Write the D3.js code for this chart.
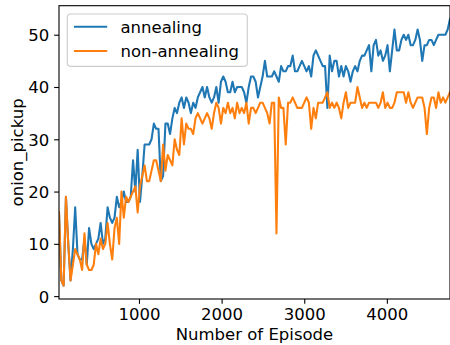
<!DOCTYPE html>
<html>
<head>
<meta charset="utf-8">
<script src="https://cdn.jsdelivr.net/npm/d3@7"></script>
<style>
  html, body { margin: 0; padding: 0; background: #fff; }
  svg { display: block; }
  text { font-family: "DejaVu Sans", sans-serif; fill: #000; }
</style>
</head>
<body>
<svg id="chart" width="450" height="345"></svg>
<script>
// ---- data ----
const episodeStart = 32;
const episodeStep = 28;
const annealing = [
  16, 3, 2, 19, 10, 3, 9, 17, 8, 7,
  7, 11, 6, 13, 10, 9, 10, 11, 14, 10,
  11, 17, 15, 14, 15, 19, 17, 18, 20, 18,
  18, 19, 26, 20, 28, 18, 23, 29, 29, 29,
  30, 33, 32, 32, 22, 23, 33, 33, 31, 34,
  36, 35, 37, 38, 36, 38, 37, 35, 37, 36,
  38, 39, 40, 38, 40, 38, 37, 38, 40, 37,
  41, 42, 41, 39, 39, 41, 39, 40, 40, 40,
  39, 37, 40, 42, 42, 41, 38, 40, 42, 45,
  42, 42, 42, 43, 42, 41, 44, 43, 43, 44,
  44, 46, 43, 43, 44, 45, 44, 43, 44, 42,
  46, 47, 46, 45, 44, 44, 36, 46, 43, 45,
  45, 42, 44, 42, 44, 43, 41, 43, 44, 43,
  45, 46, 46, 47, 48, 43, 48, 49, 46, 47,
  45, 46, 48, 43, 47, 51, 47, 47, 49, 50,
  49, 50, 48, 48, 49, 51, 49, 45, 48, 48,
  49, 49, 48, 49, 50, 50, 50, 50, 51, 53
];
const nonAnnealing = [
  16, 3, 2, 19, 10, 3, 6, 9, 8, 7,
  5, 12, 6, 5, 5, 6, 10, 8, 11, 9,
  10, 14, 10, 7, 13, 15, 10, 20, 15, 19,
  18, 19, 20, 21, 16, 21, 23, 25, 22, 22,
  24, 26, 26, 24, 22, 29, 24, 27, 26, 25,
  30, 28, 27, 34, 29, 33, 32, 32, 31, 34,
  35, 34, 33, 34, 35, 34, 32, 35, 37, 36,
  33, 36, 35, 37, 35, 36, 34, 37, 35, 36,
  35, 37, 33, 36, 36, 35, 36, 37, 37, 36,
  35, 33, 37, 37, 12, 38, 36, 36, 29, 37,
  37, 38, 37, 36, 36, 36, 37, 38, 37, 32,
  36, 34, 37, 37, 37, 38, 39, 36, 37, 36,
  37, 36, 34, 37, 39, 36, 37, 37, 37, 40,
  38, 36, 37, 36, 37, 37, 37, 37, 36, 37,
  39, 36, 37, 36, 36, 37, 39, 39, 39, 39,
  37, 39, 37, 36, 37, 38, 38, 38, 36, 31,
  36, 38, 38, 36, 39, 37, 38, 37, 38, 39
];
const xTicks = [1000, 2000, 3000, 4000];
const yTicks = [0, 10, 20, 30, 40, 50];
const seriesNames = ["annealing", "non-annealing"];
const seriesColors = ["#1f77b4", "#ff7f0e"];
const xLabel = "Number of Episode";
const yLabel = "onion_pickup";

(function () {
  const episodes = annealing.map((_, i) => episodeStart + i * episodeStep);

  // ---- layout ----
  const W = 450, H = 345;
  const mL = 59, mR = 450, mT = 5.7, mB = 299;
  const FS = 16.5;

  const svg = d3.select("#chart");
  svg.append("rect").attr("width", W).attr("height", H).attr("fill", "#fff");

  const all = annealing.concat(nonAnnealing);
  const [ymin, ymax] = d3.extent(all);
  const pad = (ymax - ymin) * 0.05;
  const x = d3.scaleLinear().domain(d3.extent(episodes)).range([mL, mR]);
  const y = d3.scaleLinear().domain([ymin - pad, ymax + pad]).range([mB, mT]);

  svg.append("defs").append("clipPath").attr("id", "clip")
    .append("rect").attr("x", mL).attr("y", mT)
    .attr("width", mR - mL).attr("height", mB - mT);

  const line = d3.line().x((d, i) => x(episodes[i])).y(d => y(d));
  const plot = svg.append("g").attr("clip-path", "url(#clip)");
  [annealing, nonAnnealing].forEach((s, k) => {
    plot.append("path").datum(s)
      .attr("fill", "none")
      .attr("stroke", seriesColors[k])
      .attr("stroke-width", 2.08)
      .attr("stroke-linejoin", "round")
      .attr("stroke-linecap", "square")
      .attr("d", line);
  });

  // axes
  const xAxis = d3.axisBottom(x).tickValues(xTicks).tickSize(4.86).tickPadding(4.86).tickFormat(d3.format("d"));
  const yAxis = d3.axisLeft(y).tickValues(yTicks).tickSize(4.86).tickPadding(4.86).tickFormat(d3.format("d"));

  const gx = svg.append("g").attr("transform", `translate(0,${mB})`).call(xAxis);
  const gy = svg.append("g").attr("transform", `translate(${mL},0)`).call(yAxis);
  [gx, gy].forEach(g => {
    g.select(".domain").remove();
    g.selectAll(".tick line").attr("stroke", "#000").attr("stroke-width", 1.1);
    g.selectAll(".tick text").attr("font-family", "DejaVu Sans").attr("font-size", FS).attr("fill", "#000");
  });
  gx.selectAll(".tick text").attr("dy", null).attr("y", 20.5);
  gy.selectAll(".tick text").attr("dy", "0.36em");

  // spines
  svg.append("rect").attr("x", mL).attr("y", mT)
    .attr("width", mR - mL).attr("height", mB - mT)
    .attr("fill", "none").attr("stroke", "#000").attr("stroke-width", 1.1);

  // axis labels
  svg.append("text").attr("x", (mL + mR) / 2).attr("y", 339.5)
    .attr("text-anchor", "middle").attr("font-size", FS).text(xLabel);
  svg.append("text")
    .attr("transform", `translate(23,${(mT + mB) / 2}) rotate(-90)`)
    .attr("text-anchor", "middle").attr("font-size", FS).text(yLabel);

  // legend
  const lg = svg.append("g");
  const lx = mL + 8.3, ly = mT + 8.3;
  const lw = 180, lh = 52.4;
  lg.append("rect").attr("x", lx).attr("y", ly).attr("width", lw).attr("height", lh)
    .attr("rx", 3.3).attr("ry", 3.3)
    .attr("fill", "rgba(255,255,255,0.8)").attr("stroke", "#cccccc").attr("stroke-width", 1.1);
  const rowY = [26.7, 51];
  seriesNames.forEach((name, k) => {
    lg.append("line").attr("x1", lx + 6.6).attr("x2", lx + 6.6 + 33.3)
      .attr("y1", rowY[k]).attr("y2", rowY[k])
      .attr("stroke", seriesColors[k]).attr("stroke-width", 2.08);
    lg.append("text").attr("x", lx + 6.6 + 33.3 + 13.3).attr("y", rowY[k] + 6.2)
      .attr("font-size", FS).text(name);
  });
})();
</script>
</body>
</html>
